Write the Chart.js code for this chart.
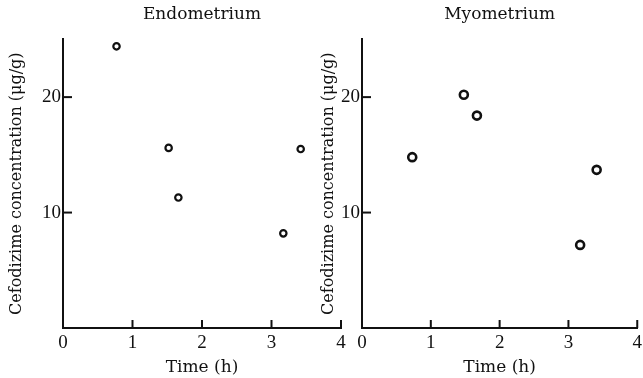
<!DOCTYPE html>
<html>
<head>
<meta charset="utf-8">
<script src="https://cdn.jsdelivr.net/npm/chart.js@4/dist/chart.umd.min.js"></script>
<style>
  html, body { margin: 0; padding: 0; background: #fff; }
  #wrap { position: relative; width: 643px; height: 378px; overflow: hidden; }
  canvas { position: absolute; top: 0; }
  #endo { left: 0; }
  #myo { left: 312px; }
</style>
</head>
<body>
<div id="wrap">
  <canvas id="endo" width="350" height="378"></canvas>
  <canvas id="myo" width="334" height="378"></canvas>
</div>
<script>
// datos
const timeEndo = [0.77, 1.52, 1.66, 3.17, 3.42];
const concEndo = [24.4, 15.6, 11.3, 8.2, 15.5];
const timeMyo = [0.73, 1.48, 1.67, 3.17, 3.41];
const concMyo = [14.8, 20.2, 18.4, 7.2, 13.7];
const xTicks = [0, 1, 2, 3, 4];
const yTicks = [10, 20];
const yLabel = 'Cefodizime concentration (\u03bcg/g)';
const xLabel = 'Time (h)';

const serif = '"Liberation Serif", "DejaVu Serif", serif';
const wide = '"DejaVu Serif", "Liberation Serif", serif';
const ink = '#111';

// marcas de ambos ejes hacia adentro
const innerTicks = {
  id: 'innerTicks',
  afterDraw(chart) {
    const ctx = chart.ctx;
    const x = chart.scales.x, y = chart.scales.y, area = chart.chartArea;
    ctx.save();
    ctx.strokeStyle = ink;
    ctx.lineWidth = 2;
    xTicks.forEach(v => {
      if (v === 0) return;
      const px = x.getPixelForValue(v);
      ctx.beginPath();
      ctx.moveTo(px, area.bottom);
      ctx.lineTo(px, area.bottom - 8);
      ctx.stroke();
    });
    yTicks.forEach(v => {
      const py = y.getPixelForValue(v);
      ctx.beginPath();
      ctx.moveTo(area.left, py);
      ctx.lineTo(area.left + 9, py);
      ctx.stroke();
    });
    ctx.restore();
  }
};

function makeChart(id, title, xs, ys, yWidth, padRight, radius, bw) {
  const ctx = document.getElementById(id).getContext('2d');
  return new Chart(ctx, {
    type: 'scatter',
    data: {
      datasets: [{
        data: xs.map((x, i) => ({ x, y: ys[i] })),
        pointStyle: 'circle',
        pointRadius: radius,
        borderWidth: bw,
        borderColor: ink,
        backgroundColor: '#fff'
      }]
    },
    options: {
      responsive: false,
      animation: false,
      layout: { padding: { top: 0, right: padRight, left: 0, bottom: 0 } },
      plugins: {
        legend: { display: false },
        tooltip: { enabled: false },
        title: {
          display: true,
          text: title,
          fullSize: false,
          color: ink,
          font: { family: wide, size: 17, weight: 'normal' },
          padding: { top: 4, bottom: 15 }
        }
      },
      scales: {
        x: {
          type: 'linear',
          min: 0,
          max: 4,
          afterBuildTicks: s => { s.ticks = xTicks.map(v => ({ value: v })); },
          afterFit: s => { s.height = 50; },
          grid: { display: false, drawTicks: false, tickLength: 0 },
          border: { display: true, color: ink, width: 2 },
          ticks: { color: ink, padding: 4, font: { family: serif, size: 19 } },
          title: {
            display: true,
            text: xLabel,
            color: ink,
            font: { family: wide, size: 17 },
            padding: { top: -3, bottom: 0 }
          }
        },
        y: {
          min: 0,
          max: 25,
          afterBuildTicks: s => { s.ticks = yTicks.map(v => ({ value: v })); },
          afterFit: s => { s.width = yWidth; },
          grid: { display: false, drawTicks: false, tickLength: 0 },
          border: { display: true, color: ink, width: 2 },
          ticks: { color: ink, padding: 2, font: { family: serif, size: 19 } },
          title: {
            display: true,
            text: yLabel,
            color: ink,
            font: { family: wide, size: 16 },
            padding: { top: 7, bottom: 0 }
          }
        }
      }
    },
    plugins: [innerTicks]
  });
}

makeChart('endo', 'Endometrium', timeEndo, concEndo, 63, 9, 3.2, 2.2);
makeChart('myo', 'Myometrium', timeMyo, concMyo, 50, 3, 4, 2.6);
</script>
</body>
</html>
